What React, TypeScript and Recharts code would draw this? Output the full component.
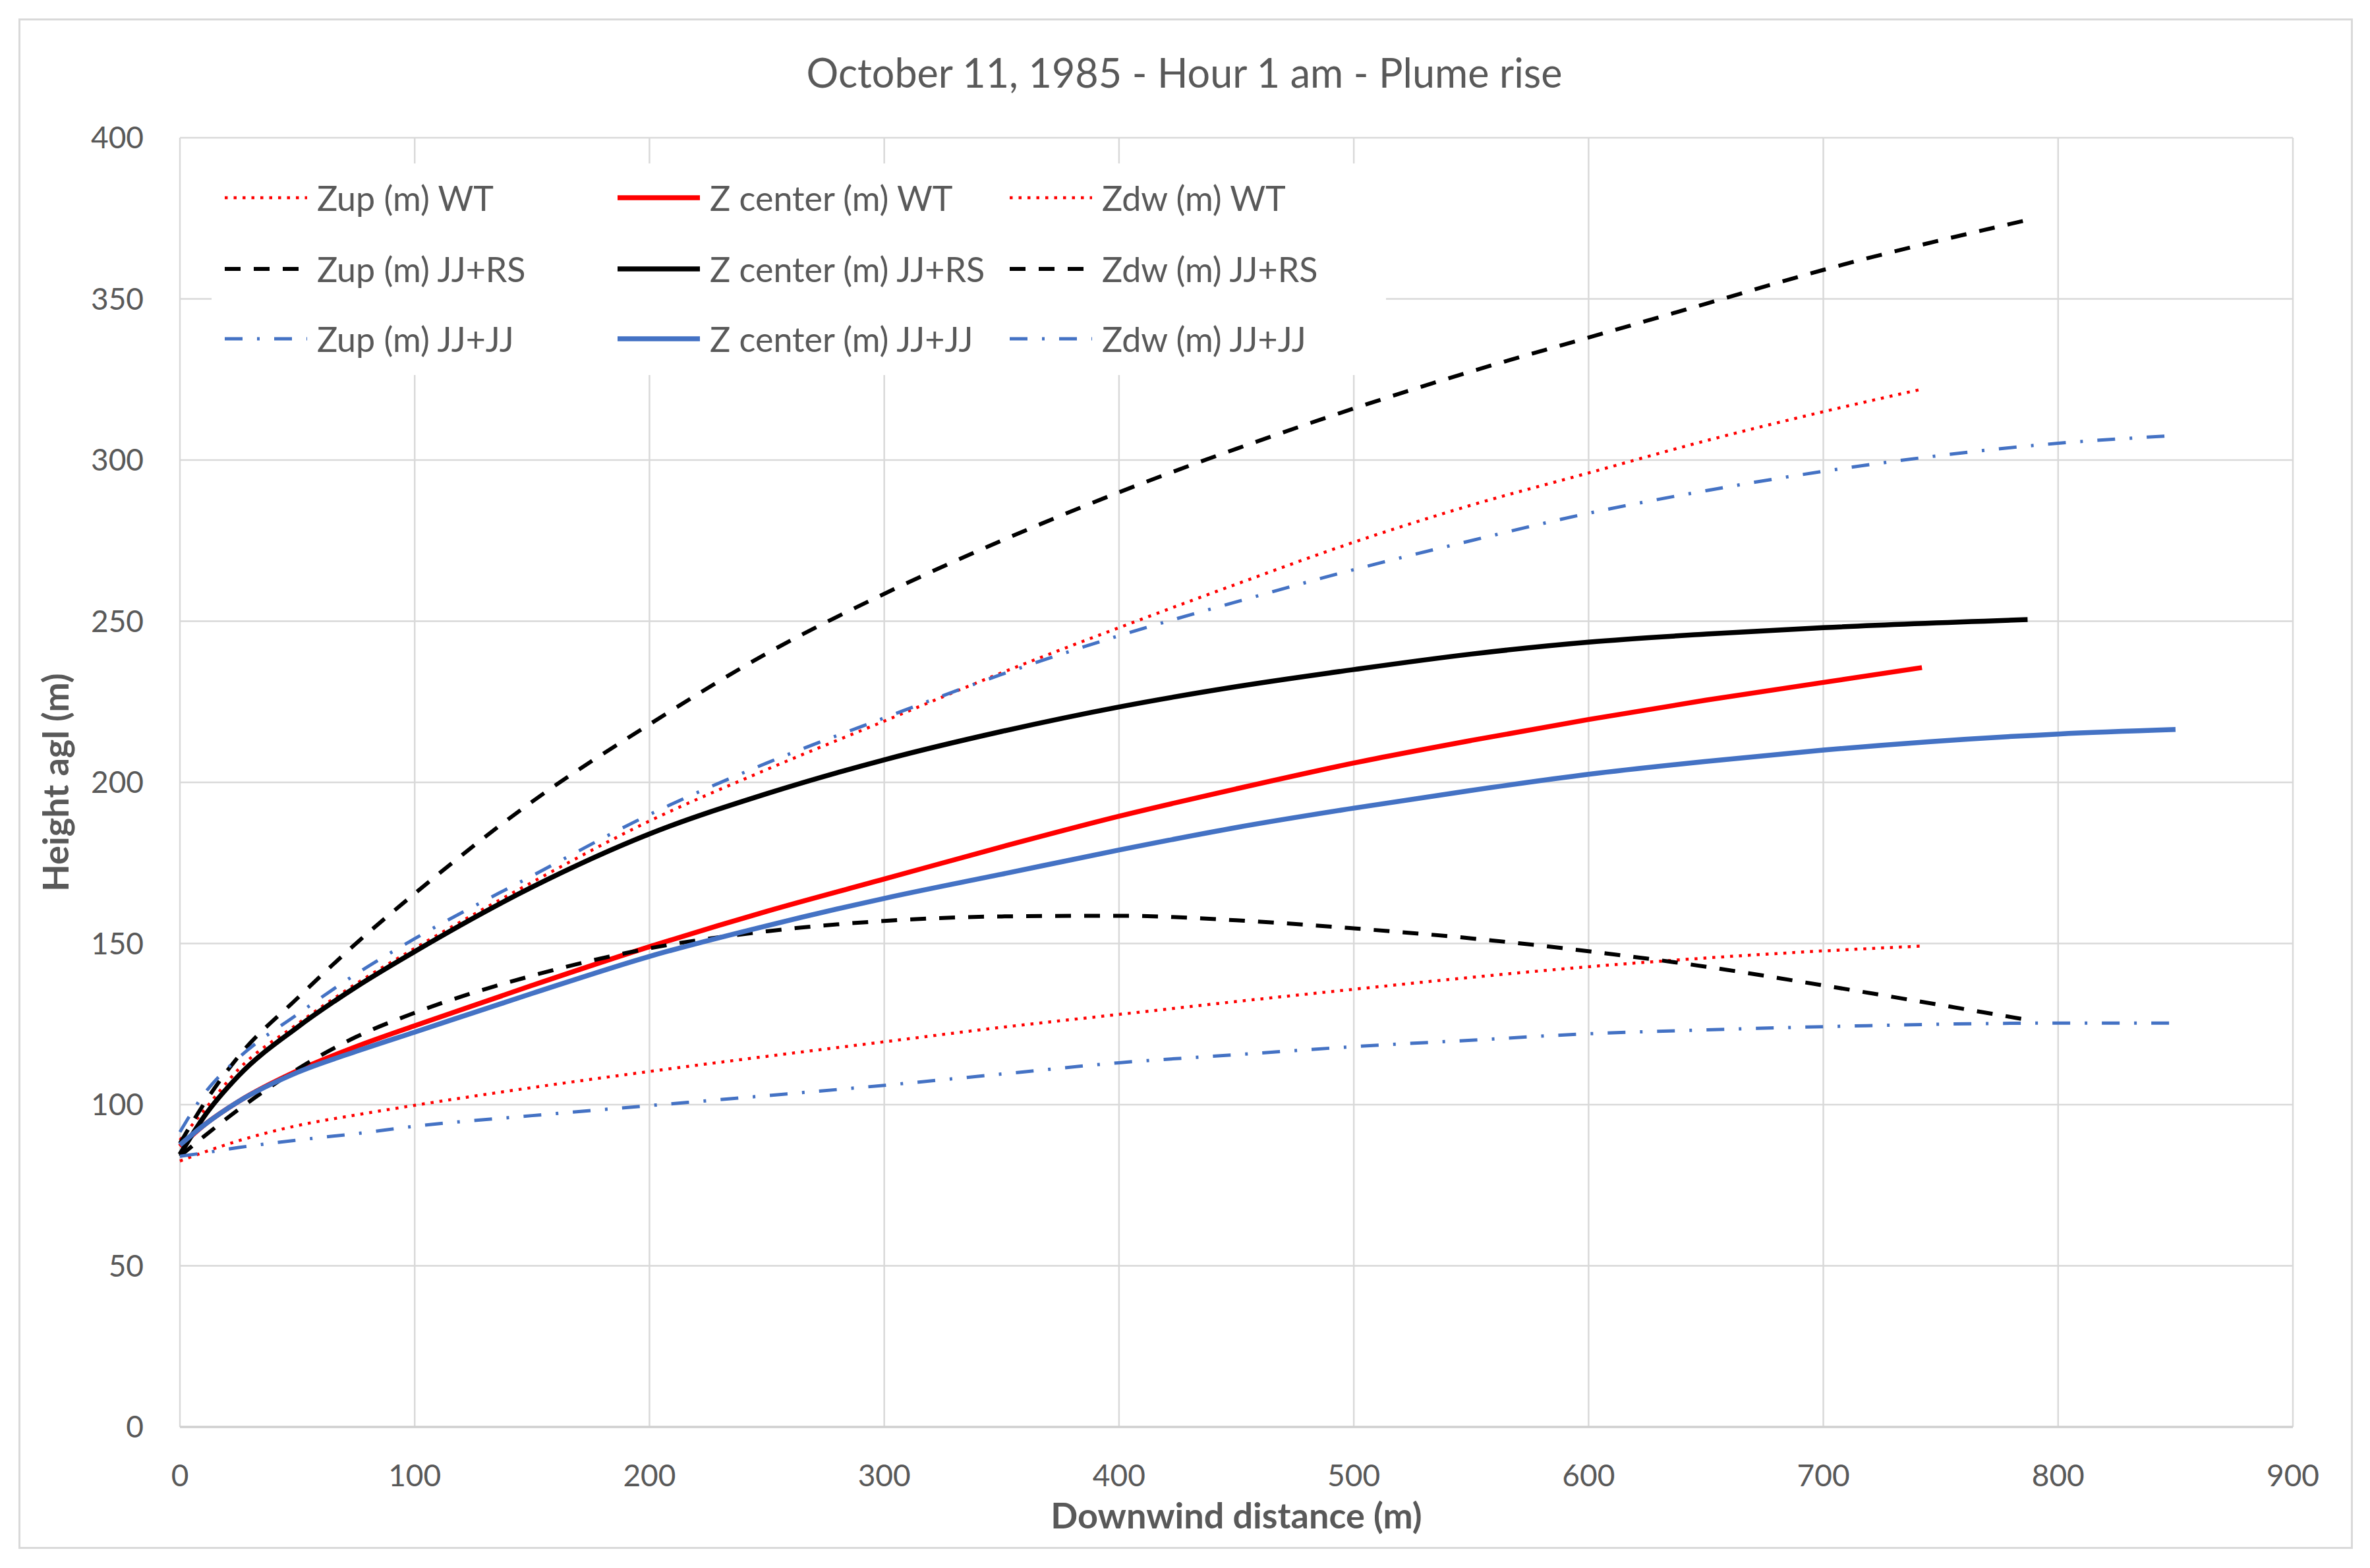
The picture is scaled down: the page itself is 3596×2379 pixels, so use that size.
import { LineChart, Line, XAxis, YAxis, CartesianGrid, Legend } from "recharts";

const FONT = "Lato, 'Open Sans', sans-serif";
const TEXT = "#595959";
const RED = "#FF0000";
const BLUE = "#4472C4";
const BLACK = "#000000";

// downwind distance (m) sample positions per run
const xWT = [0, 10, 25, 50, 75, 100, 150, 200, 250, 300, 350, 400, 450, 500, 550, 600, 650, 700, 742];
const xRS = [0, 10, 25, 50, 75, 100, 150, 200, 250, 300, 350, 400, 450, 500, 550, 600, 650, 700, 787];
const xJJ = [0, 10, 25, 50, 75, 100, 150, 200, 250, 300, 350, 400, 450, 500, 550, 600, 650, 700, 800, 850];

// heights (m)
const zupWT = [89, 98, 111, 125, 137.5, 148.5, 169, 188, 204, 219, 234, 248, 261.5, 274.5, 286, 296, 306, 315, 322];
const zcWT = [87, 93.5, 101, 110.5, 118, 124.5, 137, 149, 160, 170, 180, 189.5, 198, 206, 213, 219.5, 225.5, 231, 235.6];
const zdwWT = [82.5, 85.2, 88.8, 93.5, 96.8, 99.8, 105.3, 110.3, 115, 119.5, 124, 128, 132, 135.8, 139.5, 142.8, 145.5, 147.7, 149.2];

const zupRS = [88, 100, 115, 133, 150, 165.5, 194, 218, 240, 258.5, 275, 290, 303.5, 316, 327.5, 338, 348.5, 359, 374.5];
const zcRS = [84.5, 96, 109, 124, 136.5, 147.5, 167.5, 184, 196.5, 207, 215.8, 223.4, 229.7, 235, 239.8, 243.5, 246, 248, 250.5];
const zdwRS = [84, 90, 98.5, 111, 121, 128.5, 140, 148.5, 153.8, 157, 158.4, 158.6, 157.2, 154.7, 151.6, 147.6, 142.8, 137, 126.3];

const zupJJ = [91.5, 103, 114.5, 128, 140.5, 151.5, 171, 190, 206, 220, 233.5, 245.5, 256, 266, 275, 283.5, 290.5, 296.5, 305.2, 307.6];
const zcJJ = [87.5, 93.5, 101, 110, 116.5, 122.5, 134.5, 146, 155.5, 164, 171.5, 179, 186, 192, 197.5, 202.5, 206.5, 210, 215, 216.4];
const zdwJJ = [84, 85, 86.7, 89, 91, 93.3, 96.6, 99.7, 102.8, 106, 109.5, 113, 115.5, 118, 120, 122, 123.2, 124.2, 125.3, 125.3];

const xTicks = [0, 100, 200, 300, 400, 500, 600, 700, 800, 900];
const yTicks = [0, 50, 100, 150, 200, 250, 300, 350, 400];

const toPoints = (xs: number[], ys: number[]) => xs.map((x, i) => ({ x, y: ys[i] }));

const DOT = "4.5 9";
const DASH = "24 20";
const DASHDOT = "27 22 4 22";

type Series = {
  name: string;
  data: { x: number; y: number }[];
  color: string;
  width: number;
  dash?: string;
};

// legend order (row by row)
const series: Series[] = [
  { name: "Zup (m) WT", data: toPoints(xWT, zupWT), color: RED, width: 4.5, dash: DOT },
  { name: "Z center (m) WT", data: toPoints(xWT, zcWT), color: RED, width: 7.5 },
  { name: "Zdw (m) WT", data: toPoints(xWT, zdwWT), color: RED, width: 4.5, dash: DOT },
  { name: "Zup (m) JJ+RS", data: toPoints(xRS, zupRS), color: BLACK, width: 6, dash: DASH },
  { name: "Z center (m) JJ+RS", data: toPoints(xRS, zcRS), color: BLACK, width: 7.5 },
  { name: "Zdw (m) JJ+RS", data: toPoints(xRS, zdwRS), color: BLACK, width: 6, dash: DASH },
  { name: "Zup (m) JJ+JJ", data: toPoints(xJJ, zupJJ), color: BLUE, width: 5, dash: DASHDOT },
  { name: "Z center (m) JJ+JJ", data: toPoints(xJJ, zcJJ), color: BLUE, width: 7.5 },
  { name: "Zdw (m) JJ+JJ", data: toPoints(xJJ, zdwJJ), color: BLUE, width: 5, dash: DASHDOT },
];

const colX = [20, 616, 1211];
const rowY = [52, 160, 266];

function LegendBox() {
  return (
    <div style={{ position: "relative", width: 1782, height: 321, background: "#fff" }}>
      {series.map((s, i) => (
        <div
          key={s.name}
          style={{
            position: "absolute",
            left: colX[i % 3],
            top: rowY[Math.floor(i / 3)] - 30,
            height: 60,
            display: "flex",
            alignItems: "center",
            whiteSpace: "nowrap",
          }}
        >
          <svg width={125} height={20} style={{ display: "block" }}>
            <line x1={0} y1={10} x2={125} y2={10} stroke={s.color} strokeWidth={s.width} strokeDasharray={s.dash} />
          </svg>
          <span style={{ marginLeft: 15, fontFamily: FONT, fontSize: 52, color: TEXT, lineHeight: "60px" }}>{s.name}</span>
        </div>
      ))}
    </div>
  );
}

export default function App() {
  return (
    <div style={{ position: "absolute", left: 0, top: 0, width: 3596, height: 2379, background: "#fff" }}>
      <div
        style={{
          position: "absolute",
          left: 28,
          top: 28,
          width: 3536,
          height: 2316,
          border: "3px solid #d9d9d9",
        }}
      />
      <div
        style={{
          position: "absolute",
          left: 28,
          width: 3538,
          top: 72,
          textAlign: "center",
          fontFamily: FONT,
          fontSize: 61,
          color: TEXT,
          lineHeight: "76px",
        }}
      >
        October 11, 1985 - Hour 1 am - Plume rise
      </div>
      <div style={{ position: "absolute", left: 0, top: 0 }}>
        <LineChart width={3596} height={2379} margin={{ top: 209, right: 117, bottom: 64, left: 73 }}>
          <CartesianGrid stroke="#d9d9d9" strokeWidth={2.5} />
          <XAxis
            dataKey="x"
            type="number"
            domain={[0, 900]}
            ticks={xTicks}
            height={150}
            tickSize={0}
            tickMargin={57}
            axisLine={{ stroke: "#d0d0d0", strokeWidth: 3.5 }}
            tickLine={false}
            tick={{ fill: TEXT, fontSize: 46, fontFamily: FONT }}
            label={{
              value: "Downwind distance (m)",
              position: "insideBottom",
              offset: -4,
              fill: TEXT,
              fontSize: 54,
              fontWeight: "bold",
              fontFamily: FONT,
            }}
          />
          <YAxis
            type="number"
            domain={[0, 400]}
            ticks={yTicks}
            width={200}
            tickSize={0}
            tickMargin={55}
            axisLine={false}
            tickLine={false}
            tick={{ fill: TEXT, fontSize: 46, fontFamily: FONT }}
            label={{
              value: "Height agl (m)",
              angle: -90,
              position: "insideLeft",
              offset: 12,
              fill: TEXT,
              fontSize: 54,
              fontWeight: "bold",
              fontFamily: FONT,
              style: { textAnchor: "middle" },
            }}
          />
          <Legend
            layout="horizontal"
            align="center"
            verticalAlign="middle"
            wrapperStyle={{ left: 321, top: 248, width: 1782, height: 321 }}
            content={() => <LegendBox />}
          />
          {series.map((s) => (
            <Line
              key={s.name}
              name={s.name}
              data={s.data}
              dataKey="y"
              type="monotone"
              stroke={s.color}
              strokeWidth={s.width}
              strokeDasharray={s.dash}
              dot={false}
              activeDot={false}
              isAnimationActive={false}
            />
          ))}
        </LineChart>
      </div>
    </div>
  );
}
